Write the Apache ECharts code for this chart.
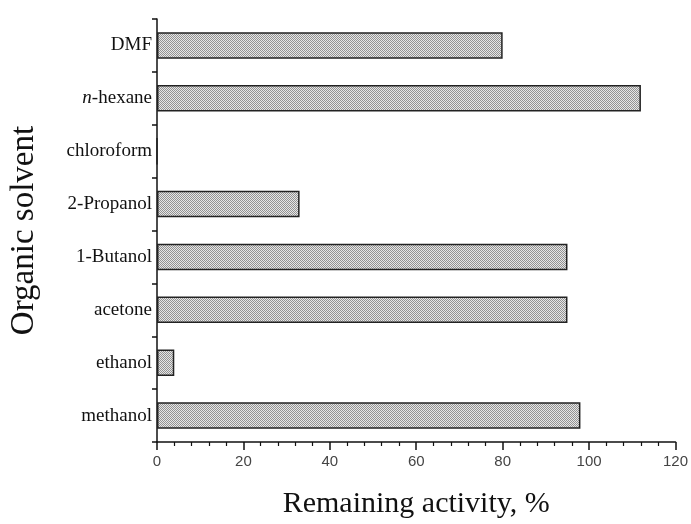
<!DOCTYPE html>
<html>
<head>
<meta charset="utf-8">
<script src="https://cdn.jsdelivr.net/npm/echarts@6/dist/echarts.min.js"></script>
<style>
html,body{margin:0;padding:0;background:#fff;}
#chart{width:691px;height:524px;}
</style>
</head>
<body>
<div id="chart"></div>
<script>
// Data (bottom to top)
var categories = ['methanol', 'ethanol', 'acetone', '1-Butanol', '2-Propanol', 'chloroform', 'n-hexane', 'DMF'];
var remainingActivity = [98, 4, 95, 95, 33, 0, 112, 80];
var xTicks = [0, 20, 40, 60, 80, 100, 120];

// fill pattern (fine gray dots)
var pat = document.createElement('canvas');
pat.width = 4; pat.height = 4;
var pctx = pat.getContext('2d');
pctx.fillStyle = '#e6e6e6';
pctx.fillRect(0, 0, 4, 4);
pctx.fillStyle = '#929292';
[[0,0],[2,0],[1,1],[3,1],[0,2],[2,2],[1,3],[3,3]].forEach(function (p) {
  pctx.fillRect(p[0], p[1], 1, 1);
});

var chart = echarts.init(document.getElementById('chart'));
var serif = '"Liberation Serif", "Times New Roman", serif';
chart.setOption({
  animation: false,
  backgroundColor: '#ffffff',
  grid: { left: 151, right: 14, top: 19, bottom: 75, containLabel: false },
  xAxis: {
    type: 'value',
    min: xTicks[0],
    max: xTicks[xTicks.length - 1],
    interval: 20,
    name: 'Remaining activity, %',
    nameLocation: 'middle',
    nameGap: 47,
    nameTextStyle: { fontFamily: serif, fontSize: 30, color: '#111' },
    axisLine: { show: true, lineStyle: { color: '#111', width: 1.5 } },
    axisTick: { show: true, length: 8, lineStyle: { color: '#111', width: 1.5 } },
    minorTick: { show: true, splitNumber: 5, length: 4, lineStyle: { color: '#111', width: 1.2 } },
    axisLabel: { fontFamily: '"Liberation Sans", Arial, sans-serif', fontSize: 15, color: '#444', margin: 12 },
    splitLine: { show: false }
  },
  yAxis: {
    type: 'category',
    data: categories,
    name: 'Organic solvent',
    nameLocation: 'middle',
    nameGap: 116,
    nameRotate: 90,
    nameTextStyle: { fontFamily: serif, fontSize: 33, color: '#111' },
    axisLine: { show: true, lineStyle: { color: '#111', width: 1.5 } },
    axisTick: { show: true, length: 5, lineStyle: { color: '#111', width: 1.5 } },
    axisLabel: {
      fontFamily: serif, fontSize: 19, color: '#111', margin: 5,
      formatter: function (v) {
        if (v === 'n-hexane') return '{i|n}-hexane';
        return v;
      },
      rich: { i: { fontFamily: serif, fontSize: 19, fontStyle: 'italic', color: '#111' } }
    },
    splitLine: { show: false }
  },
  series: [{
    type: 'bar',
    data: remainingActivity,
    barWidth: '50%',
    itemStyle: {
      color: { image: pat, repeat: 'repeat' },
      borderColor: '#222',
      borderWidth: 1.5
    }
  }]
});
</script>
</body>
</html>
